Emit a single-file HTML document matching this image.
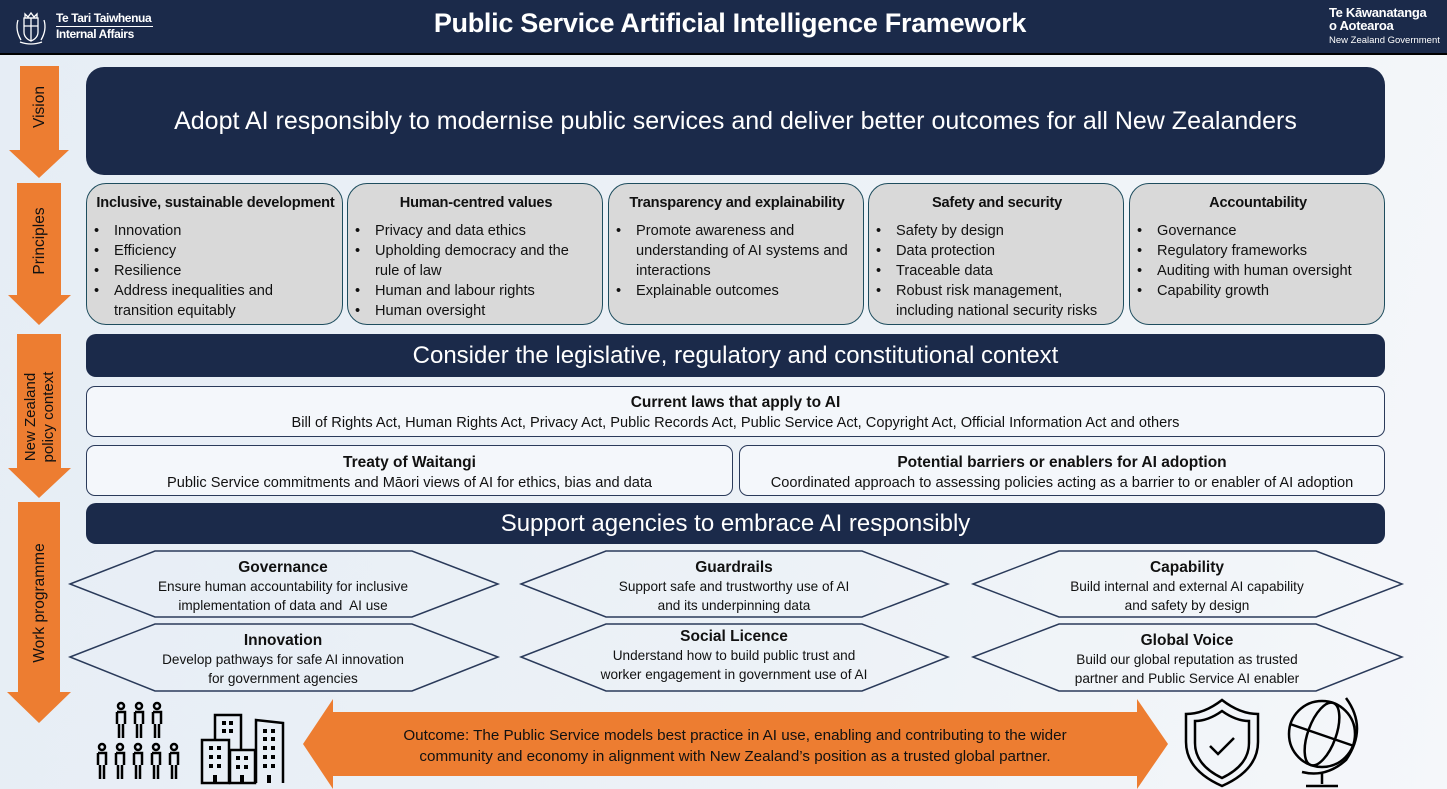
<!DOCTYPE html>
<html><head><meta charset="utf-8">
<style>
*{margin:0;padding:0;box-sizing:border-box}
body{width:1447px;height:789px;overflow:hidden;position:relative;font-family:"Liberation Sans",sans-serif;background:linear-gradient(100deg,#e6edf5 0%,#edf2f7 60%,#f5f7fa 100%);color:#111}
.a{position:absolute}
.hdr{left:0;top:0;width:1447px;height:55px;background:#1b2a4a;border-bottom:2px solid #000}
.dark{background:#1b2a4a;color:#fff;border-radius:10px;display:flex;align-items:center;justify-content:center;white-space:nowrap}
.pb{background:#d9d9d9;border:1.5px solid #1e4d5e;border-radius:20px;font-size:14.6px;line-height:20px;padding:10px 4px 0 6px}
.pb h4{font-size:14.6px;text-align:center;margin-bottom:9px;line-height:18px;white-space:nowrap;letter-spacing:-0.2px}
.pb ul{list-style:none}
.pb li{position:relative;padding-left:21px}
.pb li:before{content:"•";position:absolute;left:1px}
.wb{background:#f4f7fb;border:1.5px solid #2a3a5a;border-radius:9px;text-align:center;font-size:14.6px;line-height:20px;padding-top:6px;white-space:nowrap}
.wb b{font-size:15.5px}
.hx{text-align:center;font-size:13.6px;line-height:19px;white-space:nowrap}
.hx b{font-size:15.5px;line-height:19px}
.vl{color:#111;font-size:15.5px;transform:rotate(-90deg);white-space:nowrap;text-align:center;line-height:18px}
</style></head><body>
<div class="a hdr"></div>
<svg class="a" style="left:10px;top:6px" width="42" height="42" viewBox="0 0 42 42"><g fill="none" stroke="#fff" stroke-width="1.3"><path d="M14 12h14v14q0 6-7 9q-7-3-7-9z"/><path d="M15 8l3 3 3-4 3 4 3-3v4H15z"/><path d="M8 14q-3 10 3 20M34 14q3 10-3 20M10 36q11 4 22 0"/><path d="M21 12v23M14 20h14"/></g></svg>
<div class="a" style="left:56px;top:11px;color:#fff;font-weight:bold;font-size:12px;line-height:15px;letter-spacing:-0.4px;white-space:nowrap"><div style="border-bottom:1px solid #fff;width:97px">Te Tari Taiwhenua</div>Internal Affairs</div>
<div class="a" style="left:0;top:8px;width:1460px;text-align:center;color:#fff;font-weight:bold;font-size:27px;letter-spacing:-0.3px;white-space:nowrap">Public Service Artificial Intelligence Framework</div>
<div class="a" style="left:1329px;top:6px;color:#fff;font-weight:bold;font-size:13px;line-height:13px;white-space:nowrap;letter-spacing:-0.3px">Te Kāwanatanga<br>o Aotearoa</div>
<div class="a" style="left:1329px;top:35px;color:#fff;font-size:9.5px;white-space:nowrap">New Zealand Government</div>

<svg class="a" style="left:0;top:0" width="1447" height="789">
<g fill="#ed7d31">
<polygon points="20,66 59,66 59,150 69,150 39,178 9,150 20,150"/>
<polygon points="17,183 61,183 61,295 71,295 39,325 8,295 17,295"/>
<polygon points="17,334 61,334 61,468 71,468 39,498 8,468 17,468"/>
<polygon points="18,502 60,502 60,692 71,692 39,723 7,692 18,692"/>
<polygon points="303,744 333,699 333,712 1137,712 1137,699 1168,744 1137,789 1137,776 333,776 333,789"/>
</g>
<g fill="none" stroke="#2a3a5a" stroke-width="1.5">
<polygon points="70,584 155,551 412,551 498,584 412,617 155,617"/>
<polygon points="70,657 155,624 412,624 498,657 412,691 155,691"/>
<polygon points="521,584 606,551 862,551 948,584 862,617 606,617"/>
<polygon points="521,657 606,624 862,624 948,657 862,691 606,691"/>
<polygon points="973,584 1059,551 1316,551 1402,584 1316,617 1059,617"/>
<polygon points="973,657 1059,624 1316,624 1402,657 1316,691 1059,691"/>
</g>
<g fill="none" stroke="#000" stroke-width="2.5">
<g id="p"><circle cx="121" cy="706" r="3"/><path d="M117 712h8v12M117 712v12M119 724v14M123 724v14"/></g>
<use href="#p" x="18"/><use href="#p" x="36"/>
<use href="#p" x="-19" y="41"/><use href="#p" x="-1" y="41"/><use href="#p" x="17" y="41"/><use href="#p" x="35" y="41"/><use href="#p" x="53" y="41"/>
<path d="M215 740V715h26v34"/><rect x="202" y="740" width="27" height="43"/><rect x="230" y="750" width="25" height="33"/><path d="M256 783V720l27 3v60"/>
<path d="M1222 700q-18 14-36 14v28q0 28 36 44q36-16 36-44v-28q-18 0-36-14z"/><path d="M1222 711q-14 10-27 10v22q0 22 27 35q27-13 27-35v-22q-13 0-27-10z"/><path d="M1210 746l8 8 16-16"/>
<circle cx="1322" cy="734" r="33"/><ellipse cx="1322" cy="734" rx="14" ry="33" transform="rotate(20 1322 734)"/><path d="M1290 724l64 22M1346 698q22 30 0 62q-20 18-44 12M1322 772v12M1306 786h32"/>
</g>
<g fill="#000">
<rect x="222" y="721" width="4" height="4"/><rect x="229" y="721" width="4" height="4"/><rect x="222" y="729" width="4" height="4"/><rect x="229" y="729" width="4" height="4"/>
<rect x="209" y="746" width="4" height="4"/><rect x="217" y="746" width="4" height="4"/><rect x="209" y="755" width="4" height="4"/><rect x="217" y="755" width="4" height="4"/><rect x="209" y="764" width="4" height="4"/><rect x="217" y="764" width="4" height="4"/><rect x="213" y="775" width="4" height="8"/>
<rect x="236" y="756" width="4" height="4"/><rect x="244" y="756" width="4" height="4"/><rect x="236" y="765" width="4" height="4"/><rect x="244" y="765" width="4" height="4"/><rect x="240" y="775" width="4" height="8"/>
<rect x="263" y="729" width="4" height="4"/><rect x="271" y="729" width="4" height="4"/><rect x="263" y="737" width="4" height="4"/><rect x="271" y="737" width="4" height="4"/><rect x="263" y="746" width="4" height="4"/><rect x="271" y="746" width="4" height="4"/><rect x="263" y="755" width="4" height="4"/><rect x="271" y="755" width="4" height="4"/><rect x="263" y="764" width="4" height="4"/><rect x="271" y="764" width="4" height="4"/><rect x="267" y="775" width="4" height="8"/>
</g>
</svg>

<div class="a vl" style="left:-10px;top:98px;width:100px">Vision</div>
<div class="a vl" style="left:-10px;top:232px;width:100px">Principles</div>
<div class="a vl" style="left:-20px;top:399px;width:120px;font-size:15px">New Zealand<br>policy context</div>
<div class="a vl" style="left:-30px;top:594px;width:140px">Work programme</div>

<div class="a dark" style="left:86px;top:67px;width:1299px;height:108px;border-radius:18px;font-size:25px">Adopt AI responsibly to modernise public services and deliver better outcomes for all New Zealanders</div>

<div class="a pb" style="left:86px;top:183px;width:257px;height:142px"><h4>Inclusive, sustainable development</h4><ul><li>Innovation</li><li>Efficiency</li><li>Resilience</li><li>Address inequalities and<br>transition equitably</li></ul></div>
<div class="a pb" style="left:347px;top:183px;width:256px;height:142px"><h4>Human-centred values</h4><ul><li>Privacy and data ethics</li><li>Upholding democracy and the<br>rule of law</li><li>Human and labour rights</li><li>Human oversight</li></ul></div>
<div class="a pb" style="left:608px;top:183px;width:256px;height:142px"><h4>Transparency and explainability</h4><ul><li>Promote awareness and<br>understanding of AI systems and<br>interactions</li><li>Explainable outcomes</li></ul></div>
<div class="a pb" style="left:868px;top:183px;width:256px;height:142px"><h4>Safety and security</h4><ul><li>Safety by design</li><li>Data protection</li><li>Traceable data</li><li>Robust risk management,<br>including national security risks</li></ul></div>
<div class="a pb" style="left:1129px;top:183px;width:256px;height:142px"><h4>Accountability</h4><ul><li>Governance</li><li>Regulatory frameworks</li><li>Auditing with human oversight</li><li>Capability growth</li></ul></div>

<div class="a dark" style="left:86px;top:334px;width:1299px;height:43px;font-size:24px">Consider the legislative, regulatory and constitutional context</div>
<div class="a wb" style="left:86px;top:386px;width:1299px;height:51px;padding-top:6px"><b>Current laws that apply to AI</b><br>Bill of Rights Act, Human Rights Act, Privacy Act, Public Records Act, Public Service Act, Copyright Act, Official Information Act and others</div>
<div class="a wb" style="left:86px;top:445px;width:647px;height:51px;padding-top:7px"><b>Treaty of Waitangi</b><br>Public Service commitments and Māori views of AI for ethics, bias and data</div>
<div class="a wb" style="left:739px;top:445px;width:646px;height:51px;padding-top:7px"><b>Potential barriers or enablers for AI adoption</b><br>Coordinated approach to assessing policies acting as a barrier to or enabler of AI adoption</div>
<div class="a dark" style="left:86px;top:503px;width:1299px;height:41px;font-size:24px">Support agencies to embrace AI responsibly</div>

<div class="a hx" style="left:120px;top:558px;width:326px"><b>Governance</b><br>Ensure human accountability for inclusive<br>implementation of data and&nbsp; AI use</div>
<div class="a hx" style="left:120px;top:631px;width:326px"><b>Innovation</b><br>Develop pathways for safe AI innovation<br>for government agencies</div>
<div class="a hx" style="left:571px;top:558px;width:326px"><b>Guardrails</b><br>Support safe and trustworthy use of AI<br>and its underpinning data</div>
<div class="a hx" style="left:571px;top:627px;width:326px"><b>Social Licence</b><br>Understand how to build public trust and<br>worker engagement in government use of AI</div>
<div class="a hx" style="left:1024px;top:558px;width:326px"><b>Capability</b><br>Build internal and external AI capability<br>and safety by design</div>
<div class="a hx" style="left:1024px;top:631px;width:326px"><b>Global Voice</b><br>Build our global reputation as trusted<br>partner and Public Service AI enabler</div>

<div class="a" style="left:340px;top:725px;width:790px;text-align:center;font-size:15.2px;line-height:21px;white-space:nowrap">Outcome: The Public Service models best practice in AI use, enabling and contributing to the wider<br>community and economy in alignment with New Zealand’s position as a trusted global partner.</div>
</body></html>
